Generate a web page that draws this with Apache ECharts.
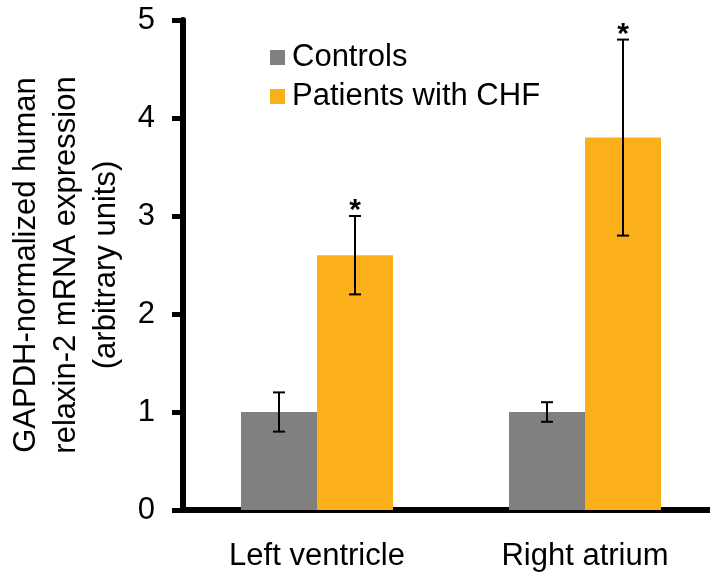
<!DOCTYPE html>
<html>
<head>
<meta charset="utf-8">
<script src="https://cdn.jsdelivr.net/npm/echarts@6/dist/echarts.min.js"></script>
<style>
  html, body { margin: 0; padding: 0; background: #fff; overflow: hidden; }
  #chart { width: 710px; height: 577px; }
</style>
</head>
<body>
<div id="chart"></div>
<script>
// Relaxin-2 mRNA expression, controls vs. patients with CHF
const categories = ['Left ventricle', 'Right atrium'];
const controlMeans = [1.0, 1.0];
const controlErrors = [0.2, 0.1];
const chfMeans = [2.6, 3.8];
const chfErrors = [0.4, 1.0];
const chfMarks = ['*', '*'];
const yTickValues = [0, 1, 2, 3, 4, 5];

const FONT = '"Liberation Sans", Arial, sans-serif';
const BAR_W = 76;
const GRAY = '#808080';
const ORANGE = '#FBB01A';

const chart = echarts.init(document.getElementById('chart'), null, { renderer: 'canvas' });

// Error bar (plus optional significance mark) drawn at a horizontal offset from the category centre
function errorRenderer(offset, marks) {
  return function (params, api) {
    const idx = api.value(0);
    const mean = api.value(1);
    const err = api.value(2);
    const hi = api.coord([idx, mean + err]);
    const lo = api.coord([idx, mean - err]);
    const x = hi[0] + offset;
    const cap = 6;
    const style = { stroke: '#000', lineWidth: 2 };
    const children = [
      { type: 'line', shape: { x1: x, y1: hi[1], x2: x, y2: lo[1] }, style },
      { type: 'line', shape: { x1: x - cap, y1: hi[1], x2: x + cap, y2: hi[1] }, style },
      { type: 'line', shape: { x1: x - cap, y1: lo[1], x2: x + cap, y2: lo[1] }, style }
    ];
    if (marks && marks[params.dataIndex]) {
      children.push({
        type: 'text',
        x: x,
        y: hi[1] + 10,
        style: {
          text: marks[params.dataIndex],
          fontFamily: FONT,
          fontSize: 30,
          fontWeight: 'bold',
          fill: '#000',
          align: 'center',
          verticalAlign: 'bottom'
        }
      });
    }
    return { type: 'group', children };
  };
}

const option = {
  animation: false,
  backgroundColor: '#fff',
  textStyle: { fontFamily: FONT },
  grid: {
    left: 183,
    width: 536,
    top: 20,
    bottom: 67,
    containLabel: false,
    outerBoundsMode: 'none'
  },
  legend: {
    orient: 'vertical',
    left: 265,
    top: 37,
    itemWidth: 15,
    itemHeight: 15,
    itemGap: 8,
    icon: 'rect',
    data: ['Controls', 'Patients with CHF'],
    textStyle: { fontFamily: FONT, fontSize: 31, color: '#000', padding: [0, 0, 0, 2] }
  },
  xAxis: {
    type: 'category',
    data: categories,
    axisLine: { lineStyle: { color: '#000', width: 6 } },
    axisTick: { show: false },
    axisLabel: { fontFamily: FONT, fontSize: 31, color: '#000', margin: 31 },
    splitLine: { show: false }
  },
  yAxis: {
    type: 'value',
    min: yTickValues[0],
    max: yTickValues[yTickValues.length - 1],
    interval: 1,
    name: 'GAPDH-normalized human\nrelaxin-2 mRNA expression\n(arbitrary units)',
    nameLocation: 'middle',
    nameRotate: 90,
    nameGap: 57,
    nameTextStyle: { fontFamily: FONT, fontSize: 31, color: '#000', lineHeight: 40, align: 'center' },
    axisLine: { show: true, lineStyle: { color: '#000', width: 6 } },
    axisTick: { show: true, length: 11, lineStyle: { color: '#000', width: 5 } },
    axisLabel: { fontFamily: FONT, fontSize: 31, color: '#000', margin: 28 },
    splitLine: { show: false }
  },
  series: [
    {
      name: 'Controls',
      type: 'bar',
      data: controlMeans,
      barWidth: BAR_W,
      barGap: '0%',
      itemStyle: { color: GRAY }
    },
    {
      name: 'Patients with CHF',
      type: 'bar',
      data: chfMeans,
      barWidth: BAR_W,
      barGap: '0%',
      itemStyle: { color: ORANGE }
    },
    {
      name: 'Controls error',
      type: 'custom',
      z: 5,
      renderItem: errorRenderer(-BAR_W / 2, null),
      encode: { x: 0, y: 1 },
      data: controlMeans.map((m, i) => [i, m, controlErrors[i]])
    },
    {
      name: 'CHF error',
      type: 'custom',
      z: 5,
      renderItem: errorRenderer(BAR_W / 2, chfMarks),
      encode: { x: 0, y: 1 },
      data: chfMeans.map((m, i) => [i, m, chfErrors[i]])
    }
  ]
};

chart.setOption(option);
</script>
</body>
</html>
